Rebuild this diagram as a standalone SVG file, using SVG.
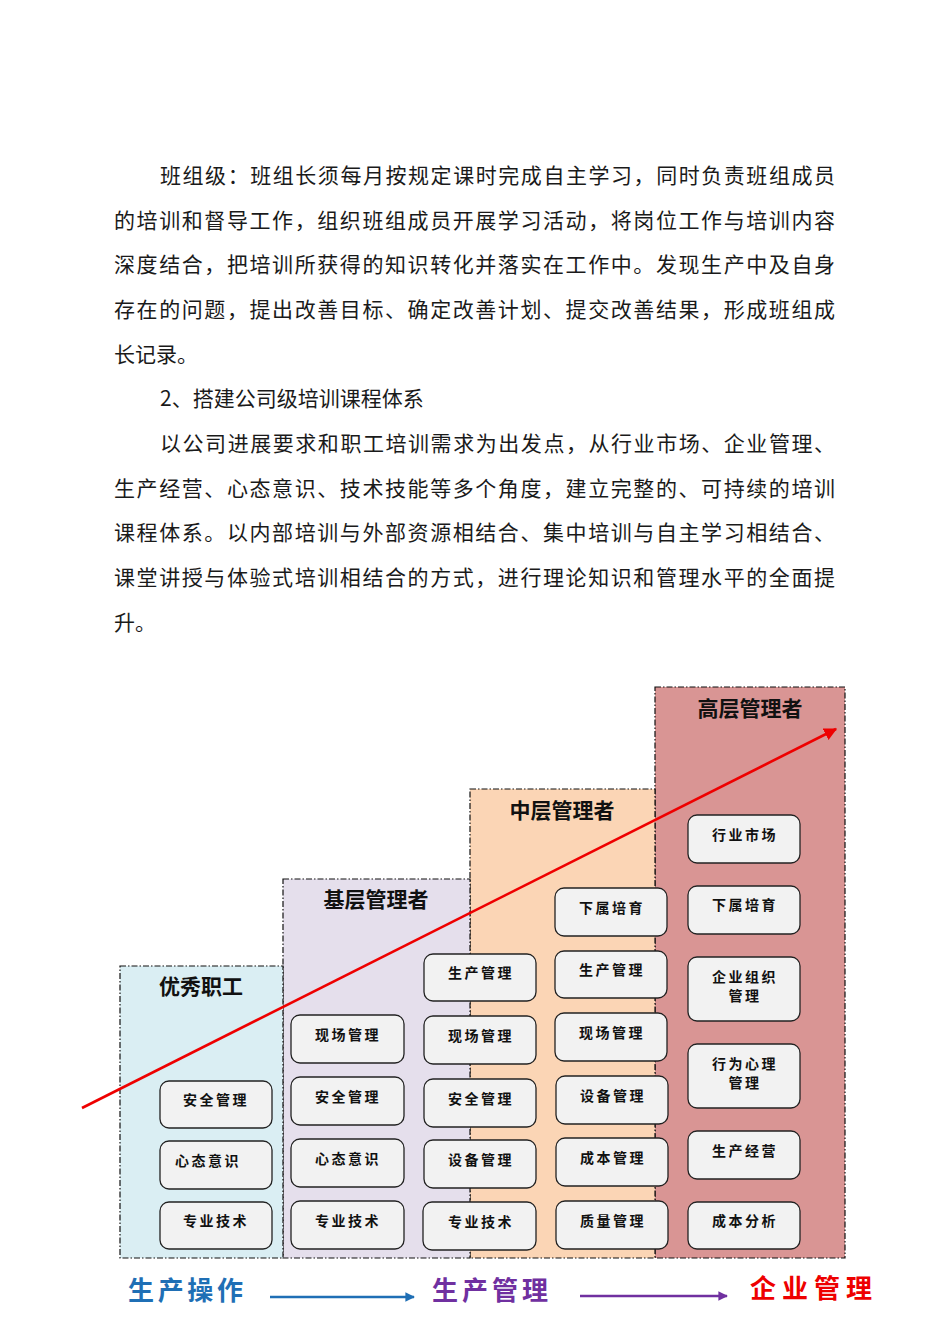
<svg xmlns="http://www.w3.org/2000/svg" width="950" height="1344" viewBox="0 0 950 1344">
<style>
.body{font-family:"Noto Sans CJK SC","Noto Sans",sans-serif;font-size:21px;fill:#1a1a1a}
.tier{stroke:#111;stroke-width:1.2;stroke-dasharray:6 2 1.5 2}
.head{font-family:"Noto Sans CJK SC",sans-serif;font-size:21px;font-weight:bold;fill:#111;text-anchor:middle}
.node rect{fill:#f2f2f2;stroke:#222;stroke-width:1.3}
.node text{font-family:"Noto Sans CJK SC",sans-serif;font-size:14px;font-weight:bold;fill:#111;text-anchor:middle;letter-spacing:2.5px}
.foot{font-family:"Noto Sans CJK SC",sans-serif;font-size:26px;font-weight:bold}
</style>
<defs>
<marker id="ar" viewBox="0 0 10 10" refX="9" refY="5" markerWidth="5" markerHeight="5" orient="auto" markerUnits="strokeWidth"><path d="M0,0 L10,5 L0,10 z" fill="#ee0000"/></marker>
<marker id="ab" viewBox="0 0 10 10" refX="9" refY="5" markerWidth="4" markerHeight="4" orient="auto" markerUnits="strokeWidth"><path d="M0,0 L10,5 L0,10 z" fill="#1f6fb5"/></marker>
<marker id="ap" viewBox="0 0 10 10" refX="9" refY="5" markerWidth="4" markerHeight="4" orient="auto" markerUnits="strokeWidth"><path d="M0,0 L10,5 L0,10 z" fill="#7030a0"/></marker>
</defs>
<rect width="950" height="1344" fill="#fff"/>
<g id="paragraph">
<text class="body" x="160" y="183" textLength="675" lengthAdjust="spacing">班组级：班组长须每月按规定课时完成自主学习，同时负责班组成员</text>
<text class="body" x="114" y="228" textLength="721" lengthAdjust="spacing">的培训和督导工作，组织班组成员开展学习活动，将岗位工作与培训内容</text>
<text class="body" x="114" y="272" textLength="721" lengthAdjust="spacing">深度结合，把培训所获得的知识转化并落实在工作中。发现生产中及自身</text>
<text class="body" x="114" y="317" textLength="721" lengthAdjust="spacing">存在的问题，提出改善目标、确定改善计划、提交改善结果，形成班组成</text>
<text class="body" x="114" y="362">长记录。</text>
<text class="body" x="160" y="406">2、搭建公司级培训课程体系</text>
<text class="body" x="160" y="451" textLength="675" lengthAdjust="spacing">以公司进展要求和职工培训需求为出发点，从行业市场、企业管理、</text>
<text class="body" x="114" y="496" textLength="721" lengthAdjust="spacing">生产经营、心态意识、技术技能等多个角度，建立完整的、可持续的培训</text>
<text class="body" x="114" y="540" textLength="721" lengthAdjust="spacing">课程体系。以内部培训与外部资源相结合、集中培训与自主学习相结合、</text>
<text class="body" x="114" y="585" textLength="721" lengthAdjust="spacing">课堂讲授与体验式培训相结合的方式，进行理论知识和管理水平的全面提</text>
<text class="body" x="114" y="630">升。</text>
</g>
<g id="tier-top"><rect class="tier" x="655" y="687" width="190" height="571" fill="#d99594"/><text class="head" x="750" y="716">高层管理者</text></g>
<g id="tier-mid"><rect class="tier" x="470" y="789" width="185" height="469" fill="#fbd5b5"/><text class="head" x="562" y="818">中层管理者</text></g>
<g id="tier-base"><rect class="tier" x="283" y="879" width="187" height="379" fill="#e5dfec"/><text class="head" x="376" y="907">基层管理者</text></g>
<g id="tier-staff"><rect class="tier" x="120" y="966" width="163" height="292" fill="#daeef3"/><text class="head" x="201" y="994">优秀职工</text></g>

<g id="c1-1" class="node"><rect x="160" y="1081" width="112" height="47" rx="9"/><text x="216" y="1105">安全管理</text></g>
<g id="c1-2" class="node"><rect x="160" y="1141" width="112" height="48" rx="9"/><text x="208" y="1166">心态意识</text></g>
<g id="c1-3" class="node"><rect x="160" y="1202" width="112" height="47" rx="9"/><text x="216" y="1226">专业技术</text></g>

<g id="c2-1" class="node"><rect x="291" y="1015" width="113" height="48" rx="9"/><text x="348" y="1040">现场管理</text></g>
<g id="c2-2" class="node"><rect x="291" y="1077" width="113" height="48" rx="9"/><text x="348" y="1102">安全管理</text></g>
<g id="c2-3" class="node"><rect x="291" y="1139" width="113" height="48" rx="9"/><text x="348" y="1164">心态意识</text></g>
<g id="c2-4" class="node"><rect x="291" y="1201" width="113" height="48" rx="9"/><text x="348" y="1226">专业技术</text></g>

<g id="c3-1" class="node"><rect x="424" y="954" width="112" height="47" rx="9"/><text x="481" y="978">生产管理</text></g>
<g id="c3-2" class="node"><rect x="424" y="1016" width="112" height="48" rx="9"/><text x="481" y="1041">现场管理</text></g>
<g id="c3-3" class="node"><rect x="424" y="1079" width="112" height="48" rx="9"/><text x="481" y="1104">安全管理</text></g>
<g id="c3-4" class="node"><rect x="424" y="1140" width="112" height="48" rx="9"/><text x="481" y="1165">设备管理</text></g>
<g id="c3-5" class="node"><rect x="423" y="1202" width="113" height="48" rx="9"/><text x="481" y="1227">专业技术</text></g>

<g id="c4-1" class="node"><rect x="555" y="888" width="112" height="48" rx="9"/><text x="612" y="913">下属培育</text></g>
<g id="c4-2" class="node"><rect x="555" y="951" width="112" height="47" rx="9"/><text x="612" y="975">生产管理</text></g>
<g id="c4-3" class="node"><rect x="555" y="1013" width="112" height="48" rx="9"/><text x="612" y="1038">现场管理</text></g>
<g id="c4-4" class="node"><rect x="556" y="1076" width="112" height="48" rx="9"/><text x="613" y="1101">设备管理</text></g>
<g id="c4-5" class="node"><rect x="556" y="1138" width="112" height="48" rx="9"/><text x="613" y="1163">成本管理</text></g>
<g id="c4-6" class="node"><rect x="556" y="1201" width="112" height="48" rx="9"/><text x="613" y="1226">质量管理</text></g>

<g id="c5-1" class="node"><rect x="688" y="815" width="112" height="48" rx="9"/><text x="745" y="840">行业市场</text></g>
<g id="c5-2" class="node"><rect x="688" y="886" width="112" height="48" rx="9"/><text x="745" y="910">下属培育</text></g>
<g id="c5-3" class="node"><rect x="688" y="957" width="112" height="64" rx="9"/><text x="745" y="982">企业组织</text><text x="745" y="1001">管理</text></g>
<g id="c5-4" class="node"><rect x="688" y="1044" width="112" height="64" rx="9"/><text x="745" y="1069">行为心理</text><text x="745" y="1088">管理</text></g>
<g id="c5-5" class="node"><rect x="688" y="1131" width="112" height="48" rx="9"/><text x="745" y="1156">生产经营</text></g>
<g id="c5-6" class="node"><rect x="688" y="1202" width="112" height="47" rx="9"/><text x="745" y="1226">成本分析</text></g>

<g id="connectors">
<line x1="82" y1="1108" x2="836" y2="729" stroke="#ee0000" stroke-width="2.6" marker-end="url(#ar)"/>
<line x1="270" y1="1297" x2="414" y2="1297" stroke="#1f6fb5" stroke-width="2.4" marker-end="url(#ab)"/>
<line x1="580" y1="1296" x2="727" y2="1296" stroke="#7030a0" stroke-width="2.4" marker-end="url(#ap)"/>
</g>
<g id="footer">
<text class="foot" x="128" y="1300" fill="#1f6fb5" textLength="115" lengthAdjust="spacing">生产操作</text>
<text class="foot" x="432" y="1300" fill="#7030a0" textLength="116" lengthAdjust="spacing">生产管理</text>
<text class="foot" x="750" y="1298" fill="#ee0000" textLength="122" lengthAdjust="spacing">企业管理</text>
</g>
</svg>
